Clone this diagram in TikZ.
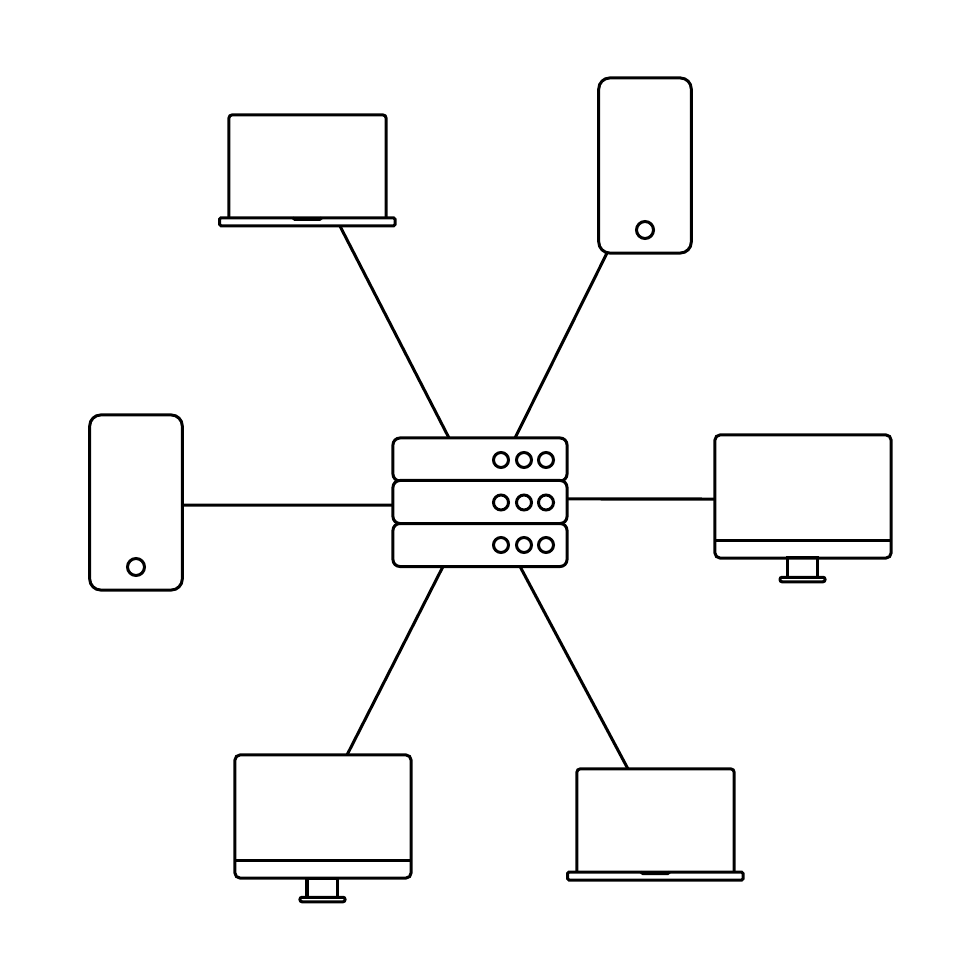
\documentclass[tikz,border=0pt]{standalone}
\usepackage{amsmath}
\usepackage{tikz}
\usepackage{xcolor}

\tikzset{
  part/.style={draw,line width=0.03cm,inner sep=0,outer sep=0,rectangle},
  phonebody/.style={part,minimum width=0.925cm,minimum height=1.75cm,rounded corners=0.11cm},
  phonebutton/.style={part,circle,minimum size=0.17cm},
  lapscreen/.style={part,minimum width=1.57cm,minimum height=1.07cm,rounded corners=0.03cm},
  lapbase/.style={part,fill=white,minimum width=1.755cm,minimum height=0.08cm,rounded corners=0.015cm},
  monscreen/.style={part,minimum width=1.76cm,minimum height=1.23cm,rounded corners=0.05cm},
  monneck/.style={part,minimum width=0.30cm,minimum height=0.20cm},
  monfoot/.style={part,fill=white,minimum width=0.45cm,minimum height=0.045cm,rounded corners=0.02cm},
  srvrow/.style={part,fill=white,minimum width=1.74cm,minimum height=0.43cm,rounded corners=0.07cm},
  srvlight/.style={part,circle,minimum size=0.15cm},
  link/.style={line width=0.03cm}
}

\begin{document}
\begin{tikzpicture}[x=0.01cm,y=-0.01cm]
\useasboundingbox (0,0) rectangle (980,980);

% server
\node[srvrow] (srvtop) at (480,459.5) {};
\node[srvrow] (srvbot) at (480,545) {};
\node[srvrow] (srvmid) at (480,502) {};
\node[srvlight] (lighta) at (501,460) {};
\node[srvlight] (lightb) at (524,460) {};
\node[srvlight] (lightc) at (546,460) {};
\node[srvlight] (lightd) at (501,502.5) {};
\node[srvlight] (lighte) at (524,502.5) {};
\node[srvlight] (lightf) at (546,502.5) {};
\node[srvlight] (lightg) at (501,545) {};
\node[srvlight] (lighth) at (524,545) {};
\node[srvlight] (lighti) at (546,545) {};

% phones
\node[phonebody] (phonea) at (645,165.5) {};
\node[phonebutton] (buttona) at (645,230) {};
\node[phonebody] (phoneb) at (136,502.5) {};
\node[phonebutton] (buttonb) at (136,567) {};

% laptops
\node[lapscreen] (lapa) at (307.5,168.5) {};
\node[lapbase] (lapabase) at (307.3,221.8) {};
\draw[link] ([xshift=-0.145cm]lapabase.north) -- ++(2,1.5) -- ++(25,0) -- ++(2,-1.5);
\node[lapscreen] (lapb) at (655.5,822.5) {};
\node[lapbase] (lapbbase) at (655.3,876) {};
\draw[link] ([xshift=-0.145cm]lapbbase.north) -- ++(2,1.5) -- ++(25,0) -- ++(2,-1.5);

% monitors
\node[monneck] (necka) at (802,568) {};
\node[monscreen] (mona) at (803,496.5) {};
\node[monfoot] (foota) at (802.5,579.5) {};
\draw[link] ([yshift=0.18cm]mona.south west) -- ([yshift=0.18cm]mona.south east);
\node[monneck] (neckb) at (322,888) {};
\node[monscreen] (monb) at (323,816.5) {};
\node[monfoot] (footb) at (322.5,899.5) {};
\draw[link] ([yshift=0.18cm]monb.south west) -- ([yshift=0.18cm]monb.south east);

% links to the server
\draw[link] ([xshift=0.325cm]lapabase.south) -- ([xshift=-0.31cm]srvtop.north);
\draw[link] ([xshift=-0.38cm]phonea.south) -- ([xshift=0.35cm]srvtop.north);
\draw[link] ([yshift=-0.025cm]phoneb.east) -- ([yshift=-0.03cm]srvmid.west);
\draw[link] ([yshift=-0.025cm]mona.west) -- ([yshift=0.03cm]srvmid.east);
\draw[link] ([xshift=0.24cm]monb.north) -- ([xshift=-0.37cm]srvbot.south);
\draw[link] ([xshift=-0.275cm]lapb.north) -- ([xshift=0.40cm]srvbot.south);
\end{tikzpicture}
\end{document}
